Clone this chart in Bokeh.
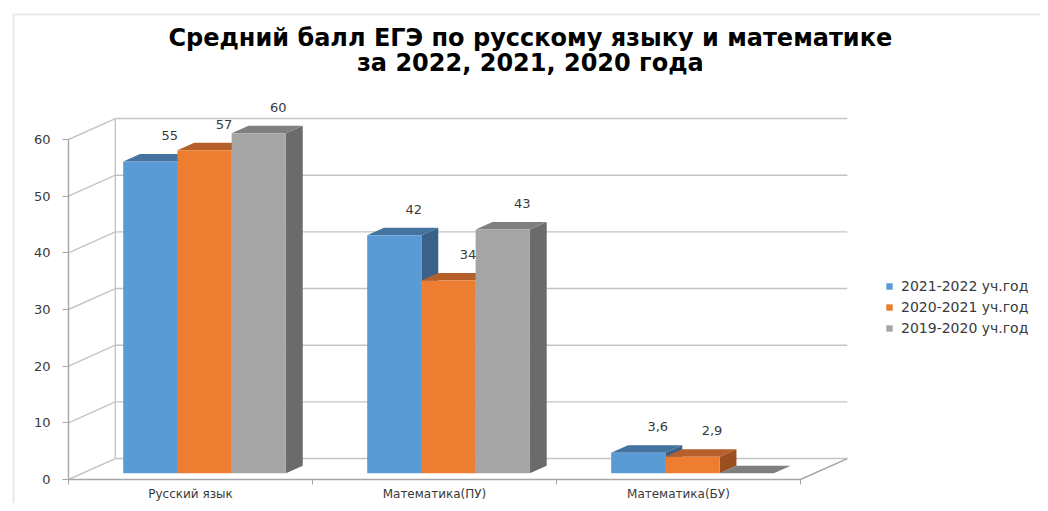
from bokeh.plotting import figure
from bokeh.models import (FixedTicker, Legend, LegendItem, ColumnDataSource,
                          Label, BoxAnnotation)
from bokeh.embed import file_html
from bokeh.resources import INLINE
from bokeh.core.properties import value

# ---- data ----
categories = ["Русский язык", "Математика(ПУ)", "Математика(БУ)"]
series_names = ["2021-2022 уч.год", "2020-2021 уч.год", "2019-2020 уч.год"]
s_2021_2022 = [55, 42, 3.6]
s_2020_2021 = [57, 34, 2.9]
s_2019_2020 = [60, 43, 0]
y_ticks = [0, 10, 20, 30, 40, 50, 60]
title_line1 = "Средний балл ЕГЭ  по русскому языку и математике"
title_line2 = "за  2022, 2021, 2020 года"

# ---- style ----
front_colors = ["#5B9BD5", "#ED7D31", "#A5A5A5"]
top_colors = ["#44739F", "#B5602A", "#7F7F7F"]
side_colors = ["#39618A", "#9C4F1F", "#6B6B6B"]
grid_color = "#C4C4C4"
axis_color = "#A6A6A6"
text_color = "#3A3A3A"
FONT = "DejaVu Sans"

DX, DY = 0.192, 3.7      # depth of the back wall (data units)
F = 0.30                 # depth of the bars' front face (fraction)
D = 0.36                 # bar depth (fraction)
W = 2.0 / 9.0            # bar width (category units)

n_cat = len(categories)
ymax = max(y_ticks)

p = figure(width=1040, height=503, x_range=(-0.2787, 3.984),
           y_range=(-4.235, 84.53),
           output_backend="svg", toolbar_location=None, title=None,
           min_border_left=0, min_border_right=0, min_border_bottom=0,
           min_border_top=0)
p.outline_line_color = None
p.xgrid.visible = False
p.ygrid.visible = False

# chart-area border (top and left edge of the embedded chart object)
p.add_layout(BoxAnnotation(left=13, right=5000, top=489, bottom=-500,
                           left_units="screen", right_units="screen",
                           top_units="screen", bottom_units="screen",
                           fill_alpha=0, line_color="#A6A6A6", line_width=1.5))

# title (two centred lines)
for txt, yy in ((title_line1, 466), (title_line2, 441)):
    p.add_layout(Label(x=534, y=yy, x_units="screen", y_units="screen",
                       text=txt, text_align="center", text_baseline="middle",
                       text_font=FONT, text_font_style="bold",
                       text_font_size="24px", text_color="#000000"))

# ---- walls / gridlines ----
p.segment(x0=[DX] * len(y_ticks), y0=[t + DY for t in y_ticks],
          x1=[n_cat + DX] * len(y_ticks), y1=[t + DY for t in y_ticks],
          line_color=grid_color, line_width=1.4)
p.segment(x0=[0] * len(y_ticks), y0=y_ticks,
          x1=[DX] * len(y_ticks), y1=[t + DY for t in y_ticks],
          line_color=grid_color, line_width=1.4)
p.segment(x0=[DX], y0=[DY], x1=[DX], y1=[ymax + DY],
          line_color=grid_color, line_width=1.4)
p.segment(x0=[n_cat], y0=[0], x1=[n_cat + DX], y1=[DY],
          line_color=axis_color, line_width=1.4)

# ---- bars (pseudo 3D) ----
series = [s_2021_2022, s_2020_2021, s_2019_2020]
ddx, ddy = D * DX, D * DY
base = F * DY
front_renderers = []
lx, ly, lt = [], [], []
for j, vals in enumerate(series):
    x0 = [i + (1 - 3 * W) / 2 + j * W + F * DX for i in range(n_cat)]
    x1 = [a + W for a in x0]
    tops = [base + v for v in vals]
    side_xs = [[b, b + ddx, b + ddx, b] for b in x1]
    side_ys = [[base, base + ddy, t + ddy, t] for t in tops]
    top_xs = [[a, b, b + ddx, a + ddx] for a, b in zip(x0, x1)]
    top_ys = [[t, t, t + ddy, t + ddy] for t in tops]
    p.patches(side_xs, side_ys, fill_color=side_colors[j], line_color=None)
    p.patches(top_xs, top_ys, fill_color=top_colors[j], line_color=None)
    r = p.quad(left=x0, right=x1, bottom=[base] * n_cat, top=tops,
               fill_color=front_colors[j], line_color=None)
    front_renderers.append(r)
    for a, b, v, t in zip(x0, x1, vals, tops):
        if v:
            lx.append((a + b) / 2 + 0.08)
            ly.append(t)
            lt.append(f"{v:g}".replace(".", ","))

lbl = ColumnDataSource(dict(x=lx, y=ly, text=lt))
p.text(x="x", y="y", text="text", source=lbl, y_offset=-26,
       text_align="center", text_baseline="middle",
       text_font=value(FONT), text_font_size="13px", text_color=text_color)

# ---- axes ----
ya = p.yaxis[0]
ya.fixed_location = 0
ya.ticker = FixedTicker(ticks=y_ticks)
ya.bounds = (0, ymax)
ya.axis_line_color = axis_color
ya.axis_line_width = 1.4
ya.major_tick_line_color = axis_color
ya.major_tick_out = 6
ya.major_tick_in = 0
ya.minor_tick_line_color = None
ya.major_label_standoff = 12
ya.major_label_text_font = FONT
ya.major_label_text_font_size = "13px"
ya.major_label_text_color = text_color

xa = p.xaxis[0]
xa.fixed_location = 0
xa.ticker = FixedTicker(ticks=[i + 0.5 for i in range(n_cat)],
                        minor_ticks=list(range(n_cat + 1)))
xa.major_label_overrides = {i + 0.5: c for i, c in enumerate(categories)}
xa.bounds = (0, n_cat)
xa.axis_line_color = axis_color
xa.axis_line_width = 1.4
xa.major_tick_line_color = None
xa.major_tick_out = 0
xa.major_tick_in = 0
xa.minor_tick_line_color = axis_color
xa.minor_tick_out = 5
xa.minor_tick_in = 0
xa.major_label_standoff = 2
xa.major_label_text_font = FONT
xa.major_label_text_font_size = "12px"
xa.major_label_text_color = text_color

# ---- legend ----
legend = Legend(items=[LegendItem(label=series_names[j], renderers=[front_renderers[j]])
                       for j in range(len(series))],
                location=(885, 165), border_line_color=None,
                background_fill_alpha=0, padding=0, margin=0, spacing=1,
                glyph_width=8, glyph_height=8, label_height=20,
                label_standoff=8, label_text_font=FONT,
                label_text_font_size="14px", label_text_color=text_color)
p.add_layout(legend)

open("out.html", "w").write(file_html(p, INLINE))
